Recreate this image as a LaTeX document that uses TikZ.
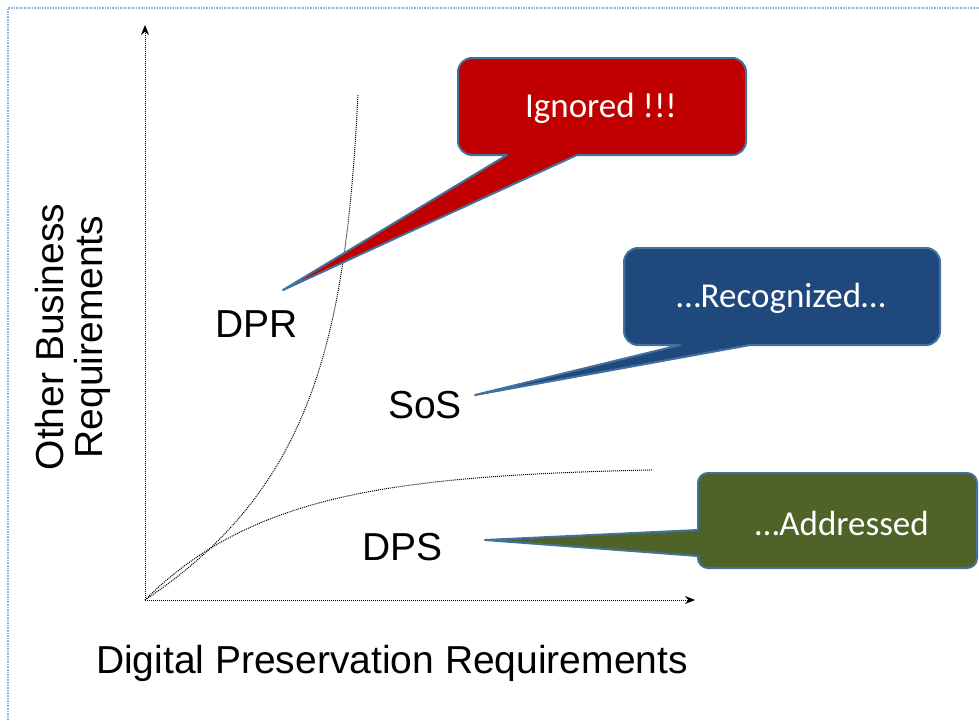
\documentclass[tikz,border=0pt]{standalone}
\usepackage{fontspec}
\setmainfont{Liberation Sans}
\newfontfamily\calfont{Carlito}
\usetikzlibrary{arrows.meta}
\definecolor{frameblue}{RGB}{141,179,226}
\definecolor{outlineblue}{RGB}{65,113,156}
\definecolor{ignred}{RGB}{192,0,0}
\definecolor{recblue}{RGB}{31,73,125}
\definecolor{addgreen}{RGB}{79,98,40}
\tikzset{
  axisline/.style={densely dotted, line width=1pt, -{Stealth[length=10pt,width=8pt]}},
  curveline/.style={densely dotted, line width=1pt},
  biglabel/.style={font=\fontsize{39}{40}\selectfont, inner sep=0pt},
  callouttext/.style={font=\calfont\fontsize{35}{36}\selectfont, text=white, inner sep=0pt},
  calloutshape/.style={draw=outlineblue, line width=2pt, line join=round}
}
\begin{document}
\begin{tikzpicture}[x=1pt,y=1pt]
\useasboundingbox (0,0) rectangle (979,-720);
% frame
\draw[frameblue, densely dotted, line width=1.6pt] (8,-720) -- (8,-8) -- (979,-8);
% axes
\coordinate (origin) at (145,-600);
\coordinate (ytop) at (145,-25);
\coordinate (xend) at (695,-600);
\draw[axisline] (origin) -- (ytop);
\draw[axisline] (origin) -- (xend);
% curves
\draw[curveline] plot[domain=0:505, samples=90, smooth] ({145+220*(1-exp(-\x/147))}, {-600+\x});
\draw[curveline] plot[domain=0:508, samples=90, smooth] ({145+\x}, {-600+133*(1-exp(-\x/133))});
% labels
\node[biglabel, anchor=base west] (dpr) at (215,-337) {DPR};
\node[biglabel, anchor=base west] (sos) at (388,-418) {SoS};
\node[biglabel, anchor=base west] (dps) at (362,-560) {DPS};
\node[biglabel, anchor=base] (xlab) at (392,-673) {Digital Preservation Requirements};
\node[biglabel, anchor=base, rotate=90] (ylab1) at (63,-337) {Other Business};
\node[biglabel, anchor=base, rotate=90] (ylab2) at (102,-337) {Requirements};
% red callout
\path[fill=ignred, calloutshape] (577,-155) -- (732,-155) arc[start angle=270,end angle=360,radius=14] -- (746,-72) arc[start angle=0,end angle=90,radius=14] -- (472,-58) arc[start angle=90,end angle=180,radius=14] -- (458,-141) arc[start angle=180,end angle=270,radius=14] -- (507,-155) -- (283,-290) -- cycle;
\node[callouttext] (ign) at (601,-108) {Ignored !!!};
% blue callout
\path[fill=recblue, calloutshape] (750,-345) -- (926,-345) arc[start angle=270,end angle=360,radius=14] -- (940,-262) arc[start angle=0,end angle=90,radius=14] -- (638,-248) arc[start angle=90,end angle=180,radius=14] -- (624,-331) arc[start angle=180,end angle=270,radius=14] -- (680,-345) -- (475,-395) -- cycle;
\node[callouttext] (rec) at (781,-298) {…Recognized…};
% green callout
\path[fill=addgreen, calloutshape] (698,-530) -- (698,-483) arc[start angle=180,end angle=90,radius=10] -- (967,-473) arc[start angle=90,end angle=0,radius=10] -- (977,-558) arc[start angle=0,end angle=-90,radius=10] -- (708,-568) arc[start angle=270,end angle=180,radius=10] -- (698,-556) -- (485,-540) -- cycle;
\node[callouttext] (addr) at (842,-523) {…Addressed};
\end{tikzpicture}
\end{document}
